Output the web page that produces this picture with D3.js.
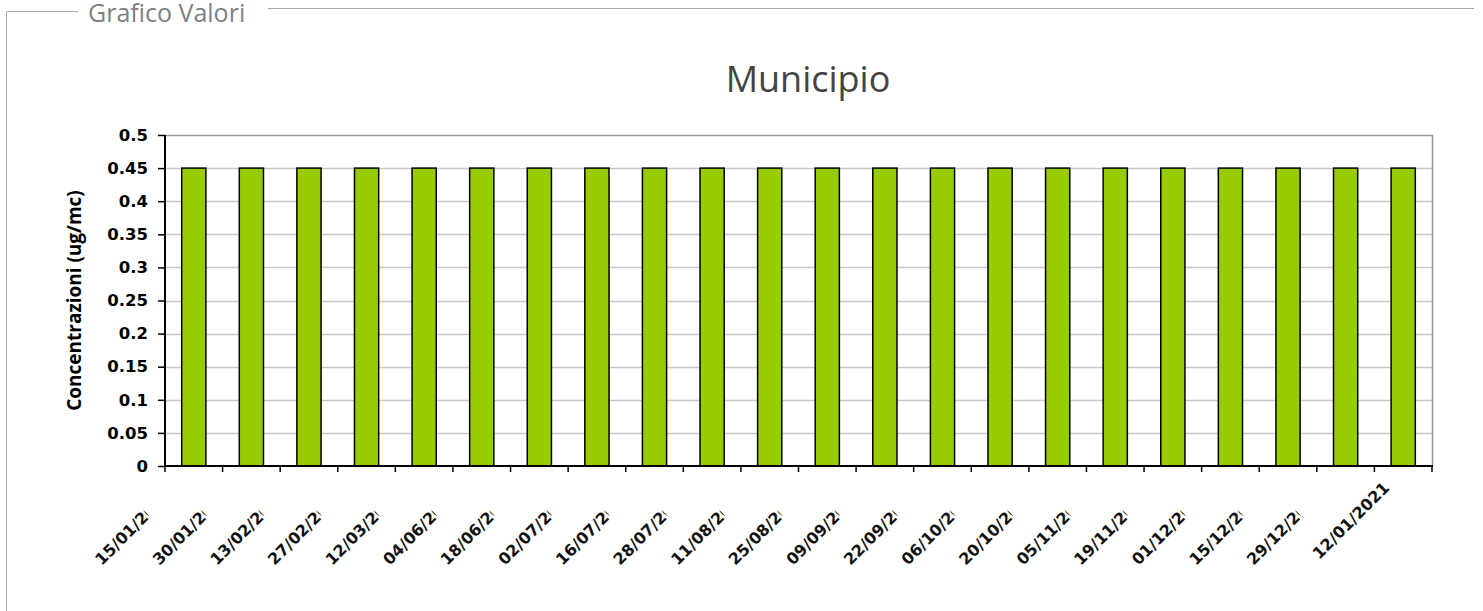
<!DOCTYPE html>
<html>
<head>
<meta charset="utf-8">
<script src="https://cdn.jsdelivr.net/npm/d3@7"></script>
<style>
  body { margin: 0; background: #fff; }
  svg { display: block; }
</style>
</head>
<body>
<svg id="chart" width="1483" height="611"></svg>
<script>
// Data
const dates = [
    "15/01/2020", "30/01/2020", "13/02/2020", "27/02/2020", "12/03/2020", "04/06/2020",
    "18/06/2020", "02/07/2020", "16/07/2020", "28/07/2020", "11/08/2020", "25/08/2020",
    "09/09/2020", "22/09/2020", "06/10/2020", "20/10/2020", "05/11/2020", "19/11/2020",
    "01/12/2020", "15/12/2020", "29/12/2020", "12/01/2021"
];
const values = [
    0.45, 0.45, 0.45, 0.45, 0.45, 0.45, 0.45, 0.45, 0.45, 0.45, 0.45,
    0.45, 0.45, 0.45, 0.45, 0.45, 0.45, 0.45, 0.45, 0.45, 0.45, 0.45
];
const yTicks = [0, 0.05, 0.1, 0.15, 0.2, 0.25, 0.3, 0.35, 0.4, 0.45, 0.5];

const svg = d3.select("#chart");

// Panel frame (fieldset look)
const frame = svg.append("g");
frame.append("path")
    .attr("d", "M6.5,611 V11.5 H78")
    .attr("fill", "none").attr("stroke", "#aaa").attr("stroke-width", 1);
frame.append("path")
    .attr("d", "M268,8.5 H1474")
    .attr("fill", "none").attr("stroke", "#aaa").attr("stroke-width", 1);
frame.append("text")
    .attr("x", 88).attr("y", 22)
    .attr("font-family", "'Open Sans', sans-serif")
    .attr("font-size", 25)
    .attr("fill", "#808080")
    .text("Grafico Valori");

// Title
svg.append("text")
    .attr("x", 808).attr("y", 92)
    .attr("text-anchor", "middle")
    .attr("font-family", "'Open Sans', sans-serif")
    .attr("font-size", 36)
    .attr("fill", "#444")
    .text("Municipio");

// Plot area
const plot = { left: 165, right: 1432, top: 135, bottom: 466 };

const x = d3.scaleBand()
    .domain(dates)
    .range([plot.left, plot.right])
    .paddingInner(0.58)
    .paddingOuter(0.29);

const y = d3.scaleLinear()
    .domain([0, 0.5])
    .range([plot.bottom, plot.top]);

const g = svg.append("g");

// Gridlines
g.selectAll(".grid")
    .data(yTicks.filter(d => d > 0 && d < 0.5))
    .join("line")
    .attr("x1", plot.left).attr("x2", plot.right)
    .attr("y1", d => Math.round(y(d)) + 0.5).attr("y2", d => Math.round(y(d)) + 0.5)
    .attr("stroke", "#c8c8c8").attr("stroke-width", 1.5);

// Top and right border
g.append("path")
    .attr("d", `M${plot.left},${plot.top + 0.5} H${plot.right + 0.5} V${plot.bottom}`)
    .attr("fill", "none").attr("stroke", "#999").attr("stroke-width", 1.5);

// Bars
g.selectAll(".bar")
    .data(values)
    .join("rect")
    .attr("class", "bar")
    .attr("x", (d, i) => x(dates[i]))
    .attr("y", d => y(d))
    .attr("width", x.bandwidth())
    .attr("height", d => y(0) - y(d))
    .attr("fill", "#99cc00")
    .attr("stroke", "#000")
    .attr("stroke-width", 1.5);

// Y axis
const yAxis = g.append("g")
    .attr("transform", `translate(${plot.left},0)`)
    .call(d3.axisLeft(y).tickValues(yTicks).tickSize(7).tickPadding(10)
        .tickFormat(d => d3.format("")(+d.toFixed(2))));
yAxis.select(".domain").attr("stroke", "#000").attr("stroke-width", 2).attr("d", `M0,${plot.top}V${plot.bottom}`);
yAxis.selectAll(".tick line").attr("stroke", "#000").attr("stroke-width", 1.5);
yAxis.selectAll(".tick text")
    .attr("font-family", "'DejaVu Sans', sans-serif")
    .attr("font-weight", "bold")
    .attr("font-size", 16.5)
    .attr("fill", "#000");

// X axis: baseline and ticks between categories
const step = x.step();
const boundaries = d3.range(dates.length + 1).map(i => plot.left + i * step);
g.append("line")
    .attr("x1", plot.left).attr("x2", plot.right + 1)
    .attr("y1", plot.bottom).attr("y2", plot.bottom)
    .attr("stroke", "#000").attr("stroke-width", 2);
g.selectAll(".xtick")
    .data(boundaries)
    .join("line")
    .attr("x1", d => d).attr("x2", d => d)
    .attr("y1", plot.bottom).attr("y2", plot.bottom + 6)
    .attr("stroke", "#000").attr("stroke-width", 1.5);

// X labels (truncated like the original)
const defs = svg.append("defs");
defs.append("clipPath").attr("id", "lblclip")
    .append("rect").attr("x", -2).attr("y", -20).attr("width", 71).attr("height", 30);

const labels = g.selectAll(".xlabel")
    .data(dates)
    .join("g")
    .attr("transform", (d, i) => {
        const cx = x(d) + x.bandwidth() / 2;
        return i === dates.length - 1
            ? `translate(${cx - 84},${plot.bottom + 94}) rotate(-45)`
            : `translate(${cx - 92},${plot.bottom + 100}) rotate(-45)`;
    });
labels.append("text")
    .attr("font-family", "'DejaVu Sans', sans-serif")
    .attr("font-weight", "bold")
    .attr("font-size", 16)
    .attr("fill", "#111")
    .attr("clip-path", (d, i) => i === dates.length - 1 ? null : "url(#lblclip)")
    .text(d => d);

// Y axis title
svg.append("text")
    .attr("transform", `translate(81,${(plot.top + plot.bottom) / 2}) rotate(-90)`)
    .attr("text-anchor", "middle")
    .attr("font-family", "'Open Sans', sans-serif")
    .attr("font-weight", "bold")
    .attr("font-size", 19)
    .attr("fill", "#000")
    .text("Concentrazioni (ug/mc)");
</script>
</body>
</html>
